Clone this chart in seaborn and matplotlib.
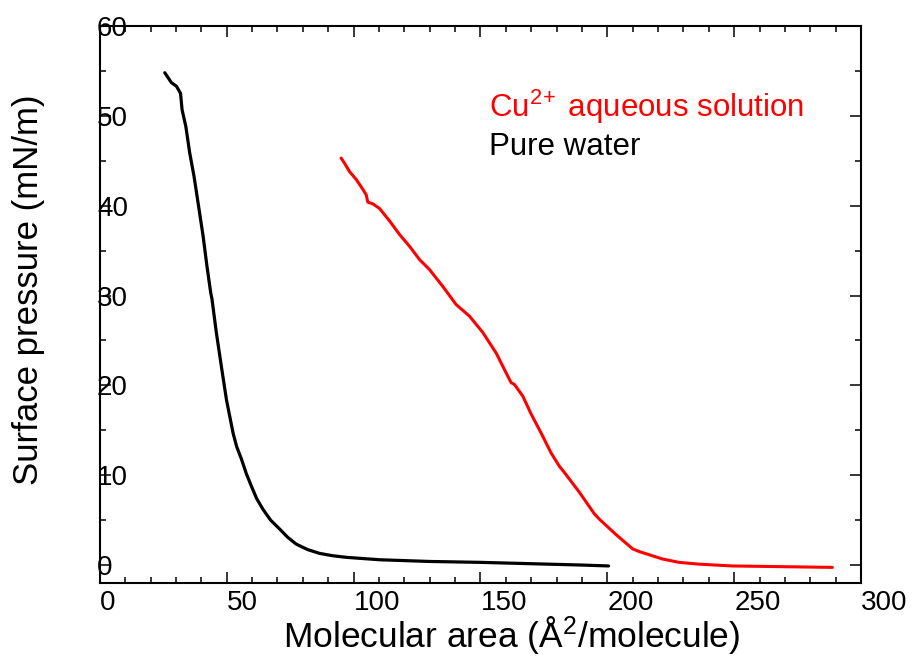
import pandas as pd
import numpy as np
import seaborn as sns
import matplotlib.pyplot as plt
from matplotlib.ticker import MultipleLocator

# isotherms
water_area = [25.6, 28.2, 30.2, 31.8, 32.4, 33.9, 35.4, 37.1, 39.1, 40.7, 42.2, 43.7,
              44.2, 45.9, 47.9, 49.9, 52.5, 53.9, 55.8, 57.7, 59.7, 61.8, 64.3, 67.3,
              70.9, 74.0, 77.4, 81.9, 86.6, 91.7, 97.1, 110.2, 130, 150, 170, 190, 200.5]
water_pressure = [54.8, 53.7, 53.3, 52.5, 50.7, 48.8, 45.9, 43.3, 39.6, 36.6, 33.3, 30.3,
                  29.6, 25.9, 22.1, 18.4, 14.7, 13.2, 11.8, 10.2, 8.8, 7.4, 6.2, 5.0,
                  4.0, 3.1, 2.33, 1.72, 1.3, 1.04, 0.86, 0.59, 0.4, 0.3, 0.15, 0.0, -0.1]

cu_area = [95.1, 96.5, 98.4, 101.1, 103.7, 105.0, 105.6, 107.6, 110.2, 114.2, 118.1, 122.0,
           126.0, 129.9, 135.2, 140.4, 145.7, 150.9, 156.2, 160.1, 162.1, 163.4, 166.7,
           170.0, 173.9, 177.8, 181.1, 183.1, 189.0, 194.9, 196.9, 203.4, 210.0, 212.6,
           221.8, 228.3, 236.2, 249.3, 288.7]
cu_pressure = [45.3, 44.7, 43.8, 42.9, 41.8, 41.2, 40.4, 40.2, 39.7, 38.3, 36.8, 35.5,
               34.0, 32.9, 31.0, 29.0, 27.7, 25.9, 23.6, 21.4, 20.3, 20.1, 18.8,
               16.8, 14.7, 12.5, 11.0, 10.3, 8.1, 5.7, 5.1, 3.4, 1.8, 1.5,
               0.67, 0.3, 0.1, -0.1, -0.26]

water = pd.DataFrame({"area": water_area, "pressure": water_pressure})
cu = pd.DataFrame({"area": cu_area, "pressure": cu_pressure})

sns.set_theme(style="ticks")
plt.rcParams["font.family"] = ["Liberation Sans", "DejaVu Sans"]
plt.rcParams["mathtext.fontset"] = "custom"
plt.rcParams["mathtext.rm"] = "Liberation Sans"
plt.rcParams["mathtext.it"] = "Liberation Sans:italic"
plt.rcParams["text.color"] = "black"
plt.rcParams["axes.labelcolor"] = "black"
plt.rcParams["xtick.color"] = "black"
plt.rcParams["ytick.color"] = "black"

fig = plt.figure(figsize=(9.16, 6.57), dpi=100)
ax = fig.add_axes([0.109, 0.1126, 0.831, 0.8478])

sns.lineplot(x="area", y="pressure", data=water, sort=False, color="black",
             linewidth=2.3, ax=ax)
sns.lineplot(x="area", y="pressure", data=cu, sort=False, color="red",
             linewidth=2.2, ax=ax)

ax.set_xlim(0, 300)
ax.set_ylim(-2, 60)
ax.xaxis.set_major_locator(MultipleLocator(50))
ax.xaxis.set_minor_locator(MultipleLocator(10))
ax.yaxis.set_major_locator(MultipleLocator(10))
ax.yaxis.set_minor_locator(MultipleLocator(5))

ax.tick_params(which="both", direction="in", top=True, right=True,
               width=1.1, color="black", labelsize=20, labelcolor="black")
ax.tick_params(which="major", length=8)
ax.tick_params(which="minor", length=4.5)
ax.tick_params(axis="x", pad=5)
ax.tick_params(axis="y", pad=2)
for lab in ax.get_xticklabels():
    lab.set_horizontalalignment("left")
for lab in ax.get_yticklabels():
    lab.set_horizontalalignment("left")

for s in ax.spines.values():
    s.set_linewidth(1.5)
    s.set_color("black")

ax.set_xlabel("Molecular area (Å$^2$/molecule)", fontsize=25.5)
ax.xaxis.set_label_coords(0.541, -0.116)
ax.xaxis.label.set_verticalalignment("baseline")
ax.set_ylabel("Surface pressure (mN/m)", fontsize=25)
ax.yaxis.set_label_coords(-0.072, 0.526)

ax.text(153.5, 49.9, "Cu$^{2\\!+}$ aqueous solution", color="red", fontsize=22.5,
        va="baseline", ha="left")
ax.text(153.5, 45.6, "Pure water", color="black", fontsize=22.5,
        va="baseline", ha="left")

plt.savefig("out.png", dpi=100)
